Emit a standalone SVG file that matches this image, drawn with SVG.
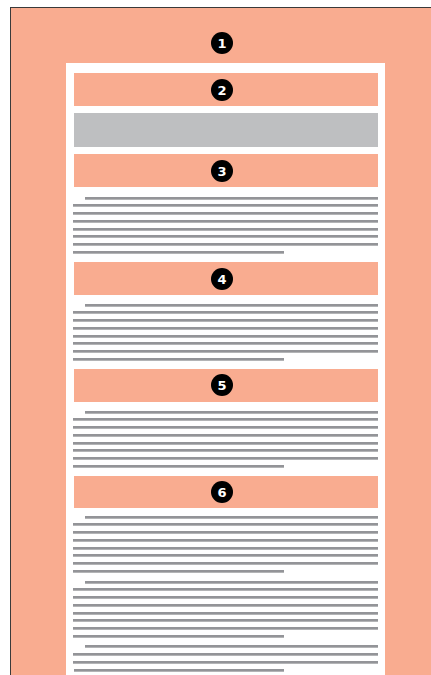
<svg xmlns="http://www.w3.org/2000/svg" width="431" height="675" viewBox="0 0 431 675">
<style>
.peach{fill:#f9ac90}
.badge{fill:#000}
.num{fill:#fff;font-family:"DejaVu Sans",sans-serif;font-weight:bold;font-size:13px;text-anchor:middle}
.ln{fill:#939498}
</style>
<defs>
<g id="para">
<rect class="ln" x="85" y="0" width="293" height="2.7"/>
<rect class="ln" x="73" y="7" width="305" height="2.7"/>
<rect class="ln" x="73" y="15" width="305" height="2.7"/>
<rect class="ln" x="73" y="23" width="305" height="2.7"/>
<rect class="ln" x="73" y="31" width="305" height="2.7"/>
<rect class="ln" x="73" y="38" width="305" height="2.7"/>
<rect class="ln" x="73" y="46" width="305" height="2.7"/>
<rect class="ln" x="73" y="54" width="211" height="2.7"/>
</g>
</defs>
<g id="page">
<rect class="peach" x="10.5" y="7.5" width="430" height="680" stroke="#3a3a3a" stroke-width="1"/>
<rect x="66" y="63" width="319" height="620" fill="#fff"/>
<circle class="badge" cx="222" cy="43" r="11"/>
<text class="num" x="222" y="47.5">1</text>
</g>
<g id="band2">
<rect class="peach" x="74" y="73" width="304" height="33"/>
<circle class="badge" cx="222" cy="90" r="11"/>
<text class="num" x="222" y="94.5">2</text>
</g>
<g id="image">
<rect x="74" y="113" width="304" height="34" fill="#bebfc1"/>
</g>
<g id="band3">
<rect class="peach" x="74" y="154" width="304" height="33"/>
<circle class="badge" cx="222" cy="171" r="11"/>
<text class="num" x="222" y="175.5">3</text>
</g>
<g id="text3"><use href="#para" y="197"/></g>
<g id="band4">
<rect class="peach" x="74" y="262" width="304" height="33"/>
<circle class="badge" cx="222" cy="279" r="11"/>
<text class="num" x="222" y="283.5">4</text>
</g>
<g id="text4"><use href="#para" y="304"/></g>
<g id="band5">
<rect class="peach" x="74" y="369" width="304" height="33"/>
<circle class="badge" cx="222" cy="385" r="11"/>
<text class="num" x="222" y="389.5">5</text>
</g>
<g id="text5"><use href="#para" y="411"/></g>
<g id="band6">
<rect class="peach" x="74" y="476" width="304" height="32"/>
<circle class="badge" cx="222" cy="492" r="11"/>
<text class="num" x="222" y="496.5">6</text>
</g>
<g id="text6">
<use href="#para" y="516"/>
<use href="#para" y="581"/>
<rect class="ln" x="85" y="645" width="293" height="2.7"/>
<rect class="ln" x="73" y="653" width="305" height="2.7"/>
<rect class="ln" x="73" y="661" width="305" height="2.7"/>
<rect class="ln" x="74" y="669" width="210" height="2.7"/>
</g>
<g id="connectors"></g>
</svg>
